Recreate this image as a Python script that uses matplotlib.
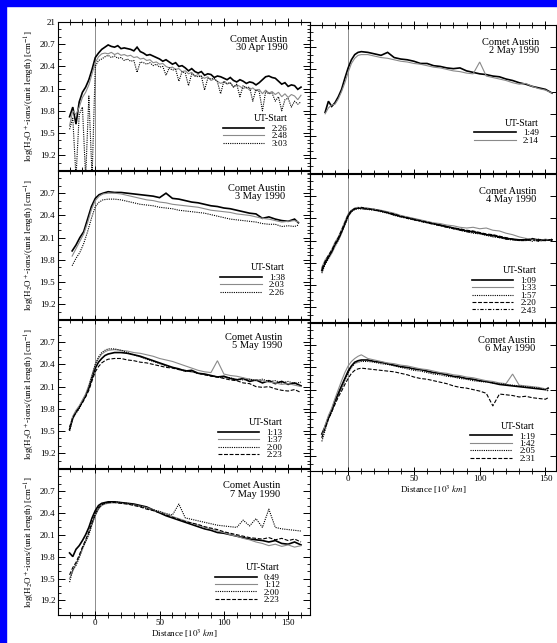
import matplotlib
matplotlib.use("Agg")
import matplotlib.pyplot as plt
from matplotlib.patches import Rectangle
from matplotlib.ticker import FixedLocator, MultipleLocator

plt.rcParams['font.family'] = ['Liberation Serif', 'DejaVu Serif']
plt.rcParams['mathtext.fontset'] = 'stix'

W, H = 557, 643

# ---------------- data ----------------
# 30 Apr 1990
dist_30apr = [-20, -17.5, -15, -12.5, -10, -7.5, -5, -2.5, 0, 2.5, 5, 7.5, 10, 12.5, 15, 17.5,
              20, 22.5, 25, 27.5, 30, 32.5, 35, 37.5, 40, 42.5, 45, 47.5, 50, 52.5, 55, 57.5,
              60, 62.5, 65, 67.5, 70, 72.5, 75, 77.5, 80, 82.5, 85, 87.5, 90, 92.5, 95, 97.5,
              100, 102.5, 105, 107.5, 110, 112.5, 115, 117.5, 120, 122.5, 125, 127.5, 130, 132.5,
              135, 137.5, 140, 142.5, 145, 147.5, 150, 152.5, 155, 157.5, 160]
ut_30apr = ['2:26', '2:48', '3:03']
a_30apr = [19.72, 19.85, 19.62, 19.92, 20.05, 20.12, 20.22, 20.36, 20.52, 20.58, 20.63, 20.66, 20.69, 20.67, 20.66, 20.68,
           20.64, 20.65, 20.64, 20.63, 20.61, 20.66, 20.60, 20.58, 20.55, 20.56, 20.54, 20.52, 20.50, 20.47, 20.49, 20.46,
           20.43, 20.45, 20.40, 20.41, 20.38, 20.34, 20.37, 20.33, 20.31, 20.33, 20.28, 20.30, 20.29, 20.25, 20.27, 20.26,
           20.24, 20.22, 20.25, 20.21, 20.19, 20.22, 20.20, 20.17, 20.19, 20.18, 20.15, 20.18, 20.22, 20.26,
           20.27, 20.25, 20.24, 20.20, 20.16, 20.18, 20.13, 20.15, 20.14, 20.09, 20.12]
b_30apr = [19.60, 19.80, 19.75, 19.85, 19.98, 20.05, 20.15, 20.30, 20.45, 20.53, 20.57, 20.58, 20.57, 20.59, 20.56, 20.58,
           20.55, 20.56, 20.54, 20.55, 20.52, 20.53, 20.50, 20.51, 20.48, 20.49, 20.45, 20.46, 20.43, 20.44, 20.40, 20.38,
           20.39, 20.36, 20.37, 20.33, 20.34, 20.30, 20.32, 20.27, 20.29, 20.26, 20.24, 20.26, 20.21, 20.23, 20.20, 20.17,
           20.19, 20.16, 20.18, 20.12, 20.15, 20.13, 20.10, 20.12, 20.08, 20.11, 20.07, 20.09, 20.03, 20.08,
           20.04, 20.06, 20.02, 20.05, 19.99, 20.03, 19.98, 20.02, 20.00, 19.95, 20.01]
c_30apr = [19.55, 19.70, 18.90, 19.75, 19.85, 18.90, 20.00, 18.90, 20.40, 20.48, 20.50, 20.53, 20.55, 20.52, 20.54, 20.51,
           20.52, 20.48, 20.50, 20.47, 20.48, 20.32, 20.46, 20.45, 20.43, 20.45, 20.41, 20.43, 20.39, 20.40, 20.28, 20.38,
           20.35, 20.36, 20.20, 20.33, 20.31, 20.14, 20.30, 20.27, 20.26, 20.27, 20.08, 20.24, 20.23, 20.24, 20.19, 20.03,
           20.20, 20.17, 20.18, 20.12, 20.16, 19.99, 20.14, 20.11, 20.12, 19.93, 20.09, 20.06, 19.80, 20.06,
           20.03, 20.04, 19.93, 19.99, 19.80, 19.95, 19.97, 19.85, 19.93, 19.89, 19.92]

# 2 May 1990
dist_2may = [-17.5, -15, -12.5, -10, -7.5, -5, -2.5, 0, 2.5, 5, 7.5, 10,
             15, 20, 25, 30, 35, 40, 45, 50, 55, 60, 65, 70, 75, 80, 85, 90, 95,
             100, 105, 110, 115, 120, 125, 130, 135, 140, 145, 150, 155]
ut_2may = ['1:49', '2:14']
a_2may = [19.82, 19.97, 19.90, 19.95, 20.03, 20.13, 20.28, 20.42, 20.53, 20.60, 20.63, 20.64,
          20.63, 20.61, 20.59, 20.63, 20.56, 20.54, 20.53, 20.51, 20.48, 20.48, 20.45, 20.44, 20.42, 20.41, 20.42, 20.38, 20.36,
          20.34, 20.33, 20.31, 20.30, 20.27, 20.25, 20.22, 20.20, 20.17, 20.15, 20.13, 20.08]
b_2may = [19.80, 19.88, 19.92, 19.93, 20.00, 20.10, 20.22, 20.36, 20.48, 20.55, 20.59, 20.60,
          20.60, 20.58, 20.56, 20.55, 20.53, 20.51, 20.50, 20.48, 20.47, 20.45, 20.43, 20.42, 20.40, 20.38, 20.37, 20.35, 20.34,
          20.50, 20.31, 20.29, 20.27, 20.25, 20.22, 20.20, 20.21, 20.17, 20.14, 20.12, 20.08]

# 3 May 1990
dist_3may = [-18, -15, -12, -9, -6, -3, 0, 3, 6, 10,
             15, 20, 25, 30, 35, 40, 45, 50, 55, 60, 65, 70, 75, 80, 85, 90, 95,
             100, 105, 110, 115, 120, 125, 130, 135, 140, 145, 150, 155, 158]
ut_3may = ['1:38', '2:03', '2:26']
a_3may = [19.92, 20.00, 20.10, 20.18, 20.35, 20.52, 20.63, 20.68, 20.70, 20.72,
          20.71, 20.71, 20.70, 20.69, 20.68, 20.67, 20.66, 20.64, 20.70, 20.63, 20.62, 20.60, 20.58, 20.57, 20.55, 20.53, 20.52,
          20.50, 20.49, 20.47, 20.45, 20.43, 20.42, 20.36, 20.38, 20.35, 20.33, 20.32, 20.35, 20.30]
b_3may = [19.85, 19.95, 20.05, 20.15, 20.30, 20.48, 20.60, 20.66, 20.69, 20.70,
          20.70, 20.69, 20.67, 20.65, 20.63, 20.61, 20.60, 20.58, 20.57, 20.55, 20.54, 20.53, 20.52, 20.51, 20.49, 20.47, 20.46,
          20.45, 20.44, 20.42, 20.41, 20.40, 20.38, 20.36, 20.35, 20.33, 20.31, 20.32, 20.33, 20.31]
c_3may = [19.72, 19.82, 19.90, 20.02, 20.18, 20.36, 20.52, 20.58, 20.61, 20.62,
          20.62, 20.61, 20.59, 20.57, 20.55, 20.54, 20.53, 20.51, 20.50, 20.49, 20.47, 20.46, 20.45, 20.44, 20.43, 20.41, 20.39,
          20.37, 20.35, 20.34, 20.33, 20.32, 20.31, 20.29, 20.28, 20.28, 20.25, 20.26, 20.25, 20.27]

# 4 May 1990
dist_4may = [-20, -17.5, -15, -12.5, -10, -7.5, -5, -2.5, 0, 2.5, 5, 7.5, 10,
             15, 20, 25, 30, 35, 40, 45, 50, 55, 60, 65, 70, 75, 80, 85, 90, 95,
             100, 105, 110, 115, 120, 125, 130, 135, 140, 145, 150, 155]
ut_4may = ['1:09', '1:33', '1:57', '2:20', '2:43']
a_4may = [19.70, 19.80, 19.88, 19.95, 20.05, 20.12, 20.22, 20.33, 20.44, 20.50, 20.53, 20.54, 20.54,
          20.53, 20.52, 20.50, 20.48, 20.45, 20.43, 20.41, 20.39, 20.37, 20.35, 20.33, 20.31, 20.29, 20.27, 20.25, 20.23, 20.22,
          20.20, 20.18, 20.17, 20.15, 20.13, 20.12, 20.11, 20.11, 20.12, 20.11, 20.11, 20.11]
b_4may = [19.74, 19.84, 19.90, 19.98, 20.08, 20.15, 20.25, 20.36, 20.46, 20.51, 20.54, 20.55, 20.54,
          20.54, 20.52, 20.51, 20.49, 20.47, 20.44, 20.42, 20.40, 20.38, 20.36, 20.34, 20.33, 20.31, 20.30, 20.28, 20.27, 20.28,
          20.26, 20.27, 20.24, 20.23, 20.20, 20.18, 20.15, 20.13, 20.12, 20.10, 20.12, 20.10]
c_4may = [19.66, 19.78, 19.85, 19.93, 20.02, 20.10, 20.20, 20.31, 20.42, 20.49, 20.52, 20.53, 20.53,
          20.52, 20.51, 20.49, 20.47, 20.44, 20.42, 20.40, 20.38, 20.36, 20.34, 20.32, 20.30, 20.28, 20.26, 20.24, 20.22, 20.20,
          20.19, 20.17, 20.15, 20.14, 20.12, 20.11, 20.10, 20.12, 20.09, 20.12, 20.10, 20.12]
d_4may = [19.72, 19.82, 19.90, 19.97, 20.06, 20.14, 20.24, 20.34, 20.45, 20.51, 20.53, 20.54, 20.53,
          20.53, 20.51, 20.50, 20.48, 20.46, 20.43, 20.41, 20.39, 20.37, 20.35, 20.33, 20.31, 20.29, 20.27, 20.26, 20.24, 20.23,
          20.21, 20.19, 20.18, 20.16, 20.14, 20.12, 20.10, 20.10, 20.13, 20.10, 20.10, 20.11]
e_4may = [19.68, 19.79, 19.87, 19.95, 20.04, 20.12, 20.21, 20.32, 20.43, 20.50, 20.53, 20.54, 20.55,
          20.53, 20.52, 20.50, 20.47, 20.45, 20.42, 20.40, 20.38, 20.36, 20.34, 20.32, 20.30, 20.28, 20.26, 20.24, 20.22, 20.21,
          20.20, 20.18, 20.16, 20.14, 20.12, 20.11, 20.11, 20.10, 20.11, 20.09, 20.11, 20.10]

# 5 May 1990
dist_5may = [-20, -17.5, -15, -12.5, -10, -7.5, -5, -2.5, 0, 2.5, 5, 7.5, 10,
             15, 20, 25, 30, 35, 40, 45, 50, 55, 60, 65, 70, 75, 80, 85, 90, 95,
             100, 105, 110, 115, 120, 125, 130, 135, 140, 145, 150, 155, 160]
ut_5may = ['1:13', '1:37', '2:00', '2:23']
a_5may = [19.52, 19.68, 19.76, 19.82, 19.90, 19.98, 20.08, 20.22, 20.35, 20.43, 20.48, 20.52, 20.54,
          20.56, 20.56, 20.55, 20.53, 20.51, 20.48, 20.45, 20.42, 20.39, 20.36, 20.34, 20.31, 20.32, 20.28, 20.27, 20.25, 20.23,
          20.24, 20.21, 20.19, 20.21, 20.17, 20.19, 20.15, 20.18, 20.14, 20.17, 20.13, 20.15, 20.11]
b_5may = [19.55, 19.70, 19.78, 19.84, 19.92, 20.00, 20.12, 20.26, 20.40, 20.48, 20.54, 20.57, 20.59,
          20.60, 20.59, 20.58, 20.56, 20.55, 20.53, 20.51, 20.48, 20.46, 20.44, 20.41, 20.38, 20.35, 20.32, 20.30, 20.29, 20.45,
          20.27, 20.25, 20.24, 20.22, 20.20, 20.19, 20.18, 20.16, 20.15, 20.13, 20.14, 20.12, 20.10]
c_5may = [19.50, 19.66, 19.74, 19.80, 19.89, 19.97, 20.10, 20.25, 20.40, 20.50, 20.56, 20.59, 20.61,
          20.61, 20.59, 20.56, 20.53, 20.50, 20.47, 20.44, 20.41, 20.38, 20.36, 20.33, 20.31, 20.30, 20.28, 20.26, 20.25, 20.23,
          20.22, 20.22, 20.20, 20.19, 20.20, 20.18, 20.20, 20.17, 20.18, 20.15, 20.17, 20.14, 20.16]
d_5may = [19.55, 19.68, 19.75, 19.82, 19.88, 19.96, 20.05, 20.18, 20.30, 20.37, 20.42, 20.45, 20.47,
          20.48, 20.48, 20.46, 20.45, 20.43, 20.42, 20.40, 20.38, 20.36, 20.35, 20.33, 20.32, 20.30, 20.28, 20.26, 20.24, 20.23,
          20.21, 20.19, 20.18, 20.15, 20.14, 20.10, 20.09, 20.10, 20.07, 20.05, 20.04, 20.06, 20.02]

# 6 May 1990
dist_6may = [-20, -17.5, -15, -12.5, -10, -7.5, -5, -2.5, 0, 2.5, 5, 7.5, 10,
             15, 20, 25, 30, 35, 40, 45, 50, 55, 60, 65, 70, 75, 80, 85, 90, 95,
             100, 105, 110, 115, 120, 125, 130, 135, 140, 145, 150, 152]
ut_6may = ['1:19', '1:42', '2:05', '2:31']
a_6may = [19.50, 19.60, 19.72, 19.82, 19.95, 20.05, 20.15, 20.25, 20.35, 20.42, 20.47, 20.49, 20.50,
          20.50, 20.48, 20.47, 20.45, 20.43, 20.41, 20.40, 20.38, 20.37, 20.35, 20.33, 20.32, 20.30, 20.28, 20.27, 20.25, 20.24,
          20.22, 20.21, 20.19, 20.17, 20.16, 20.15, 20.14, 20.13, 20.12, 20.11, 20.10, 20.12]
b_6may = [19.45, 19.62, 19.75, 19.85, 19.98, 20.10, 20.22, 20.33, 20.42, 20.48, 20.52, 20.55, 20.57,
          20.52, 20.50, 20.48, 20.46, 20.45, 20.43, 20.42, 20.40, 20.38, 20.37, 20.35, 20.33, 20.32, 20.30, 20.29, 20.27, 20.26,
          20.24, 20.22, 20.21, 20.19, 20.18, 20.31, 20.16, 20.15, 20.14, 20.13, 20.11, 20.09]
c_6may = [19.40, 19.55, 19.70, 19.80, 19.92, 20.02, 20.12, 20.22, 20.32, 20.40, 20.45, 20.47, 20.48,
          20.48, 20.47, 20.45, 20.44, 20.42, 20.40, 20.38, 20.36, 20.35, 20.33, 20.31, 20.30, 20.28, 20.27, 20.25, 20.24, 20.22,
          20.21, 20.20, 20.19, 20.18, 20.17, 20.16, 20.15, 20.14, 20.13, 20.12, 20.10, 20.08]
d_6may = [19.45, 19.58, 19.70, 19.80, 19.90, 20.00, 20.08, 20.17, 20.25, 20.32, 20.36, 20.38, 20.39,
          20.38, 20.37, 20.36, 20.35, 20.34, 20.32, 20.30, 20.27, 20.25, 20.24, 20.22, 20.20, 20.18, 20.15, 20.13, 20.12, 20.10,
          20.08, 20.05, 19.88, 20.04, 20.03, 20.02, 20.00, 20.01, 19.99, 19.98, 19.97, 19.99]

# 7 May 1990
dist_7may = [-20, -17.5, -15, -12.5, -10, -7.5, -5, -2.5, 0, 2.5, 5, 7.5, 10,
             15, 20, 25, 30, 35, 40, 45, 50, 55, 60, 65, 70, 75, 80, 85, 90, 95,
             100, 105, 110, 115, 120, 125, 130, 135, 140, 145, 150, 155, 160]
ut_7may = ['0:49', '1:12', '2:00', '2:23']
a_7may = [19.85, 19.80, 19.90, 19.95, 20.02, 20.10, 20.20, 20.33, 20.43, 20.50, 20.53, 20.54, 20.55,
          20.55, 20.54, 20.53, 20.52, 20.50, 20.48, 20.44, 20.40, 20.36, 20.33, 20.30, 20.27, 20.24, 20.21, 20.18, 20.16, 20.13,
          20.12, 20.10, 20.08, 20.06, 20.04, 20.03, 20.02, 20.00, 20.02, 19.98, 19.97, 20.00, 19.96]
b_7may = [19.50, 19.60, 19.70, 19.80, 19.92, 20.02, 20.12, 20.25, 20.36, 20.45, 20.50, 20.52, 20.53,
          20.54, 20.53, 20.52, 20.51, 20.49, 20.47, 20.44, 20.41, 20.38, 20.35, 20.32, 20.29, 20.26, 20.23, 20.20, 20.18, 20.15,
          20.13, 20.10, 20.08, 20.05, 20.03, 20.00, 19.98, 19.95, 19.97, 19.94, 19.96, 19.93, 19.95]
c_7may = [19.45, 19.62, 19.68, 19.78, 19.90, 20.00, 20.10, 20.24, 20.37, 20.46, 20.51, 20.53, 20.54,
          20.55, 20.54, 20.53, 20.51, 20.49, 20.46, 20.44, 20.42, 20.39, 20.37, 20.52, 20.33, 20.31, 20.29, 20.27, 20.25, 20.23,
          20.22, 20.21, 20.20, 20.30, 20.22, 20.32, 20.20, 20.45, 20.20, 20.18, 20.17, 20.16, 20.15]
d_7may = [19.55, 19.65, 19.72, 19.82, 19.93, 20.03, 20.14, 20.27, 20.39, 20.47, 20.51, 20.53, 20.54,
          20.54, 20.53, 20.52, 20.50, 20.48, 20.45, 20.43, 20.40, 20.37, 20.34, 20.31, 20.28, 20.26, 20.24, 20.21, 20.19, 20.17,
          20.14, 20.12, 20.10, 20.08, 20.06, 20.05, 20.04, 20.06, 20.03, 20.05, 20.02, 20.04, 20.00]

# ---------------- styles ----------------
line_styles = [
    dict(color='black', lw=1.2, ls='-'),
    dict(color='#8a8a8a', lw=0.8, ls='-'),
    dict(color='black', lw=0.8, ls=(0, (1, 1))),
    dict(color='black', lw=0.8, ls=(0, (3.5, 1.5))),
    dict(color='black', lw=0.8, ls=(0, (3, 1.5, 1, 1.5))),
]

ylabel = r'log(H$_2$O$^+$-ions/(unit length) [cm$^{-1}$]'


def px_axes(fig, x0, y0, x1, y1):
    return fig.add_axes([x0 / W, 1 - y1 / H, (x1 - x0) / W, (y1 - y0) / H])


def setup(ax, left_col, first=False, xlabels=False):
    ax.set_ylim(19.0, 21.0)
    if left_col:
        ax.set_xlim(-29, 167)
    else:
        ax.set_xlim(-29, 158)
    yt = [19.2, 19.5, 19.8, 20.1, 20.4, 20.7]
    if first:
        yt = yt + [21.0]
    ax.yaxis.set_major_locator(FixedLocator(yt))
    ax.yaxis.set_minor_locator(MultipleLocator(0.1))
    ax.xaxis.set_major_locator(FixedLocator([0, 50, 100, 150]))
    ax.xaxis.set_minor_locator(MultipleLocator(10))
    ax.tick_params(axis='x', which='major', direction='inout', length=6, width=0.7,
                   top=True, bottom=True, labelsize=6.5, pad=0, labelbottom=xlabels)
    ax.tick_params(axis='x', which='minor', direction='inout', length=4, width=0.6,
                   top=True, bottom=True)
    if left_col:
        ax.tick_params(axis='y', which='major', direction='in', length=5, width=0.7,
                       left=True, right=True, labelsize=6.5, pad=2)
        ax.tick_params(axis='y', which='minor', direction='in', length=2.5, width=0.6,
                       left=True, right=True)
        ax.set_yticklabels(['21' if v == 21.0 else f'{v:.1f}' for v in yt])
        ax.set_ylabel(ylabel, fontsize=6.5, labelpad=2)
    else:
        ax.tick_params(axis='y', which='major', direction='inout', length=8, width=0.7,
                       left=True, right=True, labelleft=False)
        ax.tick_params(axis='y', which='minor', direction='inout', length=5, width=0.6,
                       left=True, right=False)
    for sp in ax.spines.values():
        sp.set_linewidth(0.8)
    ax.axvline(0, color='#7a7a7a', lw=0.6, zorder=1)
    if xlabels:
        ax.set_xlabel(r'Distance [$10^3$ $km$]', fontsize=6.5, labelpad=0.5)


def panel(ax, dist, series, uts, title, leg_xy):
    handles = []
    for vals, st in zip(series, line_styles):
        h, = ax.plot(dist, vals, solid_joinstyle='miter', **st)
        handles.append(h)
    ax.text(leg_xy[0], 0.915, title, transform=ax.transAxes, ha='right', va='top',
            fontsize=7.5, linespacing=0.95)
    leg = ax.legend(handles, uts, title='UT-Start', loc='lower right', bbox_to_anchor=leg_xy,
                    frameon=False, fontsize=6.5, title_fontsize=7, alignment='right',
                    handlelength=4.6, handletextpad=0.8, labelspacing=-0.1,
                    borderpad=0, borderaxespad=0)
    leg._legend_box.sep = 1


fig = plt.figure(figsize=(W / 100, H / 100), dpi=100)

# blue frame of the scan
fig.patches.append(Rectangle((0, 1 - 6 / H), 1, 6 / H, transform=fig.transFigure,
                             color='#0000ff', zorder=10))
fig.patches.append(Rectangle((0, 0), 6 / W, 1, transform=fig.transFigure,
                             color='#0000ff', zorder=10))

ax1 = px_axes(fig, 58, 22, 310, 170)
ax3 = px_axes(fig, 58, 171, 310, 319)
ax5 = px_axes(fig, 58, 320, 310, 468)
ax7 = px_axes(fig, 58, 469, 310, 615)
ax2 = px_axes(fig, 310, 25, 556, 173)
ax4 = px_axes(fig, 310, 174, 556, 322)
ax6 = px_axes(fig, 310, 323, 556, 471)

setup(ax1, True, first=True)
setup(ax3, True)
setup(ax5, True)
setup(ax7, True, xlabels=True)
setup(ax2, False)
setup(ax4, False)
setup(ax6, False, xlabels=True)

panel(ax1, dist_30apr, [a_30apr, b_30apr, c_30apr], ut_30apr,
      'Comet Austin\n30 Apr 1990', (0.91, 0.15))
panel(ax2, dist_2may, [a_2may, b_2may], ut_2may,
      'Comet Austin\n2 May 1990', (0.93, 0.19))
panel(ax3, dist_3may, [a_3may, b_3may, c_3may], ut_3may,
      'Comet Austin\n3 May 1990', (0.90, 0.15))
panel(ax4, dist_4may, [a_4may, b_4may, c_4may, d_4may, e_4may], ut_4may,
      'Comet Austin\n4 May 1990', (0.92, 0.05))
panel(ax5, dist_5may, [a_5may, b_5may, c_5may, d_5may], ut_5may,
      'Comet Austin\n5 May 1990', (0.89, 0.06))
panel(ax6, dist_6may, [a_6may, b_6may, c_6may, d_6may], ut_6may,
      'Comet Austin\n6 May 1990', (0.915, 0.055))
panel(ax7, dist_7may, [a_7may, b_7may, c_7may, d_7may], ut_7may,
      'Comet Austin\n7 May 1990', (0.88, 0.075))

fig.savefig('out.png', dpi=100)
